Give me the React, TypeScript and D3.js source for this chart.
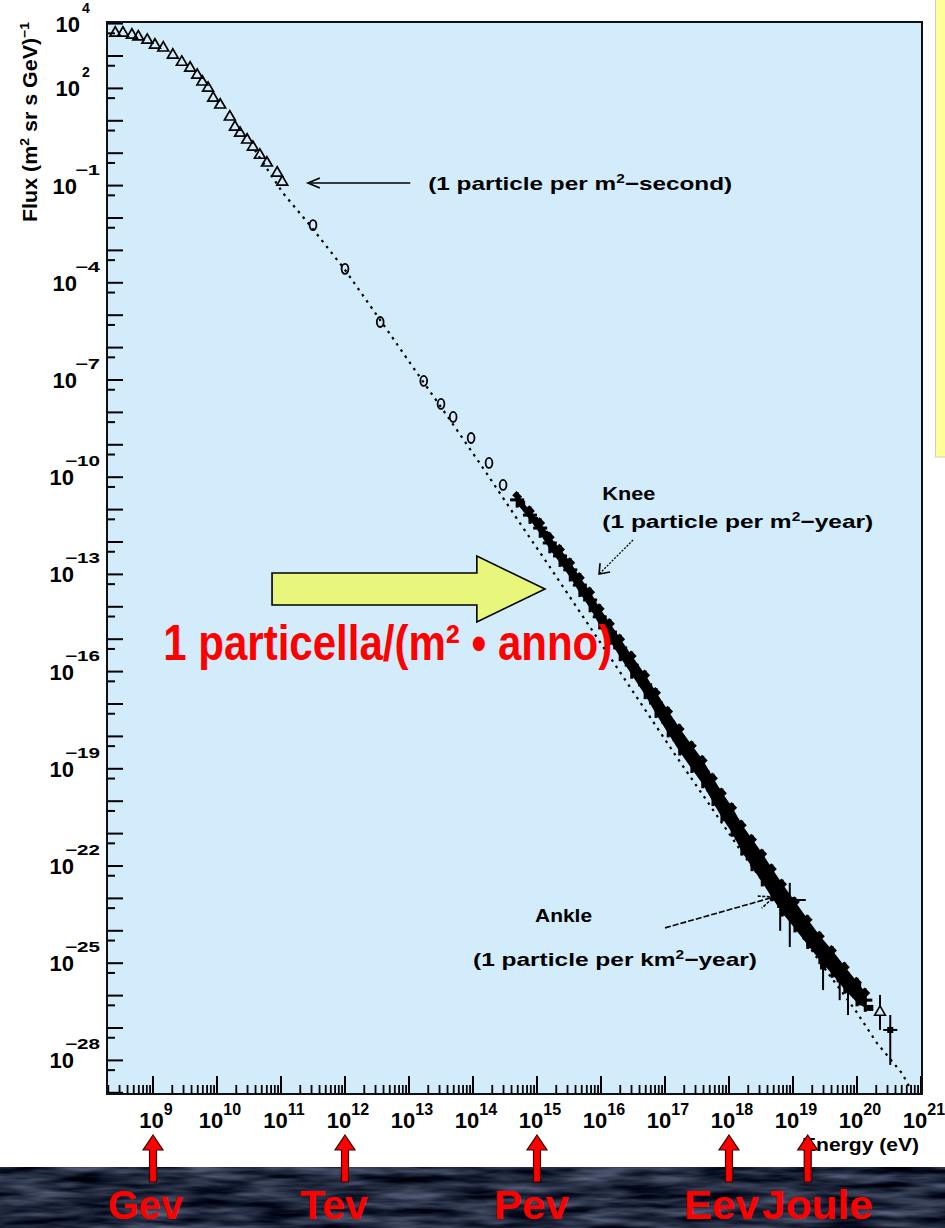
import React from 'react';
import * as d3 from 'd3';

const W = 945;
const H = 1228;

// ---- tick labels (exponents of ten) ----
const xTickExp = [9, 10, 11, 12, 13, 14, 15, 16, 17, 18, 19, 20, 21];
const yTickExp = [4, 2, -1, -4, -7, -10, -13, -16, -19, -22, -25, -28];

// ---- data (log10 energy in eV, log10 flux) ----
// low-energy direct measurements (open triangles)
const triLogE = [8.41, 8.53, 8.67, 8.77, 8.91, 9.03, 9.16, 9.31, 9.45, 9.58, 9.69, 9.77, 9.86, 9.94, 10.05, 10.2, 10.28, 10.36, 10.47, 10.56, 10.67, 10.78, 10.94, 11.02];
const triLogF = [3.71, 3.71, 3.65, 3.59, 3.49, 3.34, 3.25, 3.03, 2.81, 2.63, 2.41, 2.2, 2.01, 1.7, 1.49, 1.12, 0.81, 0.62, 0.41, 0.19, -0.06, -0.3, -0.61, -0.89];
// balloon / satellite (open circles)
const circLogE = [11.5, 12.0, 12.55, 13.23, 13.5, 13.69, 13.97, 14.25, 14.47];
const circLogF = [-2.22, -3.57, -5.21, -7.03, -7.74, -8.14, -8.79, -9.56, -10.24];
// air shower data band
const bandLogE = [14.69, 14.89, 15.05, 15.2, 15.36, 15.52, 15.67, 15.83, 15.98, 16.14, 16.3, 16.48, 16.69, 16.86, 17.05, 17.23, 17.42, 17.59, 17.75, 17.89, 18.05, 18.2, 18.36, 18.52, 18.67, 18.83, 19.03, 19.23, 19.42, 19.61, 19.81, 20.0, 20.13];
const bandLogF = [-10.7, -11.17, -11.57, -12.03, -12.43, -12.86, -13.33, -13.79, -14.31, -14.78, -15.27, -15.8, -16.41, -16.97, -17.56, -18.11, -18.64, -19.1, -19.65, -20.12, -20.58, -21.14, -21.6, -22.06, -22.52, -22.99, -23.51, -24.04, -24.53, -24.96, -25.46, -25.89, -26.14];
const bandSpread = [0.12, 0.15, 0.18, 0.2, 0.22, 0.24, 0.25, 0.26, 0.27, 0.28, 0.29, 0.3, 0.32, 0.34, 0.35, 0.36, 0.37, 0.38, 0.38, 0.39, 0.4, 0.42, 0.44, 0.45, 0.45, 0.45, 0.42, 0.4, 0.38, 0.37, 0.36, 0.32, 0.24];
// highest-energy points with error bars
const errLogE = [18.8, 18.95, 19.47, 19.73, 19.86, 20.05, 20.36, 20.52];
const errLogF = [-23.2, -23.05, -25.1, -25.5, -25.8, -25.9, -26.51, -27.06];
const errLogHi = [-22.85, -22.52, -24.75, -25.3, -25.6, -25.6, -25.98, -26.6];
const errLogLo = [-24.0, -24.5, -25.83, -26.14, -26.6, -26.2, -27.06, -28.14];
const errLogDx = [0, 0.25, 0, 0.05, 0, 0.05, 0, 0.11];
const errKind = ['x', 'x', 'x', 'x', 'x', 'x', 't', 'x'];
// dotted reference power law
const fitLogE = [10.59, 11.03, 11.45, 12.0, 12.55, 13.17, 13.64, 14.22, 14.73, 15.2, 15.67, 16.14, 16.61, 17.16, 17.7, 18.25, 18.8, 19.42, 19.97, 20.31, 20.7, 20.83];
const fitLogF = [0.1, -1.23, -2.22, -3.6, -5.15, -6.91, -8.23, -9.9, -11.41, -12.77, -14.16, -15.55, -16.94, -18.57, -20.12, -21.72, -23.2, -24.96, -26.44, -27.46, -28.39, -28.85];

// energy units under the axis
const unitLabels = ['Gev', 'Tev', 'Pev', 'Eev', 'Joule'];
const unitLogE = [9, 12, 15, 18, 19.23];
const unitLabelX = [108, 300, 494, 684, 762];

const FONT = '"Liberation Sans", Arial, Helvetica, sans-serif';

const x = d3.scaleLog().domain([Math.pow(10, 8.281), Math.pow(10, 21.016)]).range([107, 922]);
const y = d3.scaleLog().domain([Math.pow(10, -29.037), Math.pow(10, 4.049)]).range([1094, 22]);
const X = (e: number) => x(Math.pow(10, e));
const Y = (f: number) => y(Math.pow(10, f));

const L = 107, R = 922, T = 22, B = 1094;

function supStr(e: number) {
  return e < 0 ? '\u2212' + Math.abs(e) : String(e);
}

export default function App() {
  const idx = (a: number[]) => a.map((_, i) => i);

  const fitLine = d3.line<number>().x(i => X(fitLogE[i])).y(i => Y(fitLogF[i]))(idx(fitLogE)) || '';
  const bandArea = d3.area<number>()
    .x(i => X(bandLogE[i]))
    .y0(i => Y(bandLogF[i] - bandSpread[i]))
    .y1(i => Y(bandLogF[i] + bandSpread[i]))(idx(bandLogE)) || '';
  const triPath = d3.symbol().type(d3.symbolTriangle).size(50)() || '';

  // y ticks
  const yMajor: number[] = [];
  for (let n = -29; n <= 4; n++) yMajor.push(n);
  const yMinor = yMajor.map(n => n - 0.301);
  // x ticks
  const xMajor: number[] = [];
  for (let n = 8; n <= 21; n++) xMajor.push(n);
  const xMinor: number[] = [];
  xMajor.forEach(n => { for (let k = 2; k <= 9; k++) xMinor.push(n + Math.log10(k)); });

  // annotation anchors (data coordinates)
  const a1Tip = [11.42, -0.92], a1Tail = [13.02, -0.92];
  const kneeTail = [16.5, -11.94], kneeTip = [15.97, -12.99];
  const ankleTail = [17.0, -23.91], ankleTip = [18.7, -22.96];

  const yc = Y(-13.45);
  const ax0 = X(10.86), axb = X(14.06), axt = X(15.125);

  return (
    <svg width={W} height={H} style={{ position: 'absolute', left: 0, top: 0, display: 'block' }} xmlns="http://www.w3.org/2000/svg">
      <defs>
        <clipPath id="plotClip"><rect x={L} y={T} width={R - L} height={B - T} /></clipPath>
        <filter id="water" x="0" y="0" width="1" height="1" colorInterpolationFilters="sRGB">
          <feTurbulence type="fractalNoise" baseFrequency="0.016 0.12" numOctaves={3} seed={7} />
          <feColorMatrix type="matrix" values="0.6 0 0 0 -0.17  0.62 0 0 0 -0.15  0.68 0 0 0 -0.1  0 0 0 0 1" />
        </filter>
      </defs>
      <rect x={0} y={0} width={W} height={H} fill="#ffffff" />
      {/* dark sea strip at the bottom */}
      <rect x={0} y={1167} width={W} height={H - 1167} fill="#232b37" />
      <rect x={0} y={1167} width={W} height={H - 1167} filter="url(#water)" />
      {/* yellow strip at right */}
      <rect x={935.5} y={-1} width={12} height={458} fill="#ffff99" stroke="#d0d0c0" strokeWidth={1} />

      {/* plot area */}
      <rect x={L} y={T} width={R - L} height={B - T} fill="#d3ecfb" />

      {/* y ticks */}
      {yMajor.filter(n => Y(n) >= T && Y(n) <= B).map(n => (
        <line key={'ym' + n} x1={L} x2={L + 16} y1={Y(n)} y2={Y(n)} stroke="#000" strokeWidth={2} />
      ))}
      {yMinor.filter(n => Y(n) >= T && Y(n) <= B).map((n, i) => (
        <line key={'yn' + i} x1={L} x2={L + 8} y1={Y(n)} y2={Y(n)} stroke="#000" strokeWidth={2} />
      ))}
      {/* x ticks */}
      {xMajor.filter(n => X(n) >= L && X(n) <= R).map(n => (
        <line key={'xm' + n} x1={X(n)} x2={X(n)} y1={B} y2={B - 18} stroke="#000" strokeWidth={2} />
      ))}
      {xMinor.filter(n => X(n) >= L && X(n) <= R).map((n, i) => (
        <line key={'xn' + i} x1={X(n)} x2={X(n)} y1={B} y2={B - 9} stroke="#000" strokeWidth={1.8} />
      ))}

      <g clipPath="url(#plotClip)">
        {/* dotted power law */}
        <path d={fitLine} fill="none" stroke="#000" strokeWidth={2.2} strokeDasharray="2.5 5" />
        {/* triangles */}
        {triLogE.map((e, i) => (
          <path key={'t' + i} d={triPath} transform={`translate(${X(e)},${Y(triLogF[i])})`} fill="none" stroke="#000" strokeWidth={1.7} />
        ))}
        {/* circles */}
        {circLogE.map((e, i) => (
          <ellipse key={'c' + i} cx={X(e)} cy={Y(circLogF[i])} rx={3.4} ry={5} fill="none" stroke="#000" strokeWidth={1.8} />
        ))}
        {/* band */}
        <path d={bandArea} fill="#000" />
        {bandLogE.map((e, i) => (
          <g key={'b' + i}>
            <line x1={X(e) - 7} x2={X(e) + 7} y1={Y(bandLogF[i])} y2={Y(bandLogF[i])} stroke="#000" strokeWidth={3} />
            <line x1={X(e)} x2={X(e)} y1={Y(bandLogF[i] + bandSpread[i] + 0.12)} y2={Y(bandLogF[i] - bandSpread[i] - 0.12)} stroke="#000" strokeWidth={3} />
            <rect x={X(e) - 4} y={Y(bandLogF[i] + bandSpread[i]) - 3} width={8} height={6} fill="#000" transform={`rotate(45 ${X(e)} ${Y(bandLogF[i] + bandSpread[i])})`} />
            <rect x={X(e) + 1} y={Y(bandLogF[i] - bandSpread[i]) - 3} width={7} height={6} fill="#000" />
          </g>
        ))}
        {/* error-bar points */}
        {errLogE.map((e, i) => (
          <g key={'e' + i}>
            <line x1={X(e)} x2={X(e)} y1={Y(errLogHi[i])} y2={Y(errLogLo[i])} stroke="#000" strokeWidth={2} />
            {errLogDx[i] > 0 && (
              <line x1={X(e - errLogDx[i])} x2={X(e + errLogDx[i])} y1={Y(errLogF[i])} y2={Y(errLogF[i])} stroke="#000" strokeWidth={2} />
            )}
            {errKind[i] === 't' ? (
              <path d={triPath} transform={`translate(${X(e)},${Y(errLogF[i])})`} fill="#d3ecfb" stroke="#000" strokeWidth={1.6} />
            ) : (
              <rect x={X(e) - 3} y={Y(errLogF[i]) - 3} width={6} height={6} fill="#000" />
            )}
          </g>
        ))}
      </g>

      {/* frame */}
      <rect x={L} y={T} width={R - L} height={B - T} fill="none" stroke="#111" strokeWidth={2} />

      {/* y tick labels */}
      {yTickExp.map(e => {
        const s = supStr(e);
        const baseEnd = s.length === 1 ? 80 : s.length === 2 ? 77 : 74;
        const supX = s.length === 3 ? baseEnd - 9 : s.length === 2 ? baseEnd - 2 : baseEnd + 2;
        const yy = Y(e);
        return (
          <g key={'yl' + e} fontFamily={FONT} fontWeight="bold" fill="#000">
            <text x={baseEnd} y={yy + 8} fontSize={22} textAnchor="end">10</text>
            <text x={supX} y={yy - 11} fontSize={14}
              {...(s.length > 1 ? { textLength: s.length === 3 ? 35 : 25, lengthAdjust: 'spacingAndGlyphs' } : {})}>{s}</text>
          </g>
        );
      })}
      {/* x tick labels */}
      {xTickExp.map(e => (
        <text key={'xl' + e} x={X(e) + 3} y={1128} fontFamily={FONT} fontWeight="bold" fontSize={22} textAnchor="middle" fill="#000">
          10<tspan fontSize={16} dy={-13}>{e}</tspan>
        </text>
      ))}

      {/* axis titles */}
      <text transform="rotate(-90)" x={-222} y={37} fontFamily={FONT} fontWeight="bold" fontSize={20} fill="#000" textLength={200} lengthAdjust="spacingAndGlyphs">
        Flux (m<tspan fontSize={13} dy={-8}>2</tspan><tspan dy={8}> sr s GeV)</tspan><tspan fontSize={13} dy={-8}>{'\u22121'}</tspan>
      </text>
      <text x={802} y={1151} fontFamily={FONT} fontWeight="bold" fontSize={18} fill="#000" textLength={117} lengthAdjust="spacingAndGlyphs">
        Energy (eV)
      </text>

      {/* annotations */}
      <g fontFamily={FONT} fontWeight="bold" fontSize={19} fill="#000">
        <line x1={X(a1Tail[0])} y1={Y(a1Tail[1])} x2={X(a1Tip[0])} y2={Y(a1Tip[1])} stroke="#000" strokeWidth={1.6} />
        <path d={`M${X(a1Tip[0]) + 12},${Y(a1Tip[1]) - 5} L${X(a1Tip[0])},${Y(a1Tip[1])} L${X(a1Tip[0]) + 12},${Y(a1Tip[1]) + 5}`} fill="none" stroke="#000" strokeWidth={1.6} />
        <text x={X(13.3)} y={Y(-1.14)} textLength={304} lengthAdjust="spacingAndGlyphs">
          (1 particle per m<tspan fontSize={12} dy={-7}>2</tspan><tspan dy={7}>{'\u2212second)'}</tspan>
        </text>

        <text x={X(16.02)} y={Y(-10.7)} textLength={53} lengthAdjust="spacingAndGlyphs">Knee</text>
        <text x={X(16.02)} y={Y(-10.7) + 28} textLength={271} lengthAdjust="spacingAndGlyphs">
          (1 particle per m<tspan fontSize={12} dy={-7}>2</tspan><tspan dy={7}>{'\u2212year)'}</tspan>
        </text>
        <line x1={X(kneeTail[0])} y1={Y(kneeTail[1])} x2={X(kneeTip[0])} y2={Y(kneeTip[1])} stroke="#000" strokeWidth={1.3} strokeDasharray="2 1.5" />
        <path d={`M${X(kneeTip[0]) + 1},${Y(kneeTip[1]) - 11} L${X(kneeTip[0])},${Y(kneeTip[1])} L${X(kneeTip[0]) + 11},${Y(kneeTip[1]) - 2}`} fill="none" stroke="#000" strokeWidth={1.6} />

        <text x={X(14.97)} y={Y(-23.73)} textLength={57} lengthAdjust="spacingAndGlyphs">Ankle</text>
        <text x={X(14.0)} y={Y(-25.09)} textLength={284} lengthAdjust="spacingAndGlyphs">
          (1 particle per km<tspan fontSize={12} dy={-7}>2</tspan><tspan dy={7}>{'\u2212year)'}</tspan>
        </text>
        <line x1={X(ankleTail[0])} y1={Y(ankleTail[1])} x2={X(ankleTip[0])} y2={Y(ankleTip[1])} stroke="#000" strokeWidth={1.6} strokeDasharray="6 2" />
        <path d={`M${X(ankleTip[0]) - 16},${Y(ankleTip[1]) - 1} L${X(ankleTip[0])},${Y(ankleTip[1])} L${X(ankleTip[0]) - 12},${Y(ankleTip[1]) + 11}`} fill="none" stroke="#000" strokeWidth={1.6} strokeDasharray="3 1.5" />
      </g>

      {/* yellow-green arrow */}
      <polygon
        points={[
          [ax0, yc - 16], [axb, yc - 16], [axb, yc - 33], [axt, yc], [axb, yc + 33], [axb, yc + 16], [ax0, yc + 16],
        ].map(p => p.join(',')).join(' ')}
        fill="#e8f67c" stroke="#000" strokeWidth={1.6} strokeLinejoin="miter"
      />

      {/* red Italian label */}
      <text x={X(9.16)} y={Y(-15.64)} fontFamily={FONT} fontWeight="bold" fontSize={50} fill="#ff0000" textLength={449} lengthAdjust="spacingAndGlyphs">
        1 particella/(m² • anno)
      </text>

      {/* red arrows and unit labels */}
      {unitLogE.map((e, i) => {
        const cx = X(e);
        return (
          <polygon key={'ua' + i}
            points={[[cx, 1135], [cx + 10, 1150], [cx + 3.5, 1150], [cx + 3.5, 1182], [cx - 3.5, 1182], [cx - 3.5, 1150], [cx - 10, 1150]].map(p => p.join(',')).join(' ')}
            fill="#ff0000" stroke="#3a0000" strokeWidth={1.2} />
        );
      })}
      {unitLabels.map((t, i) => (
        <text key={'ul' + i} x={unitLabelX[i]} y={1219} fontFamily={FONT} fontWeight="bold" fontSize={40} fill="#ff0000"
          textLength={t === 'Joule' ? 111 : t === 'Tev' ? 68 : 75} lengthAdjust="spacingAndGlyphs">{t}</text>
      ))}
    </svg>
  );
}
